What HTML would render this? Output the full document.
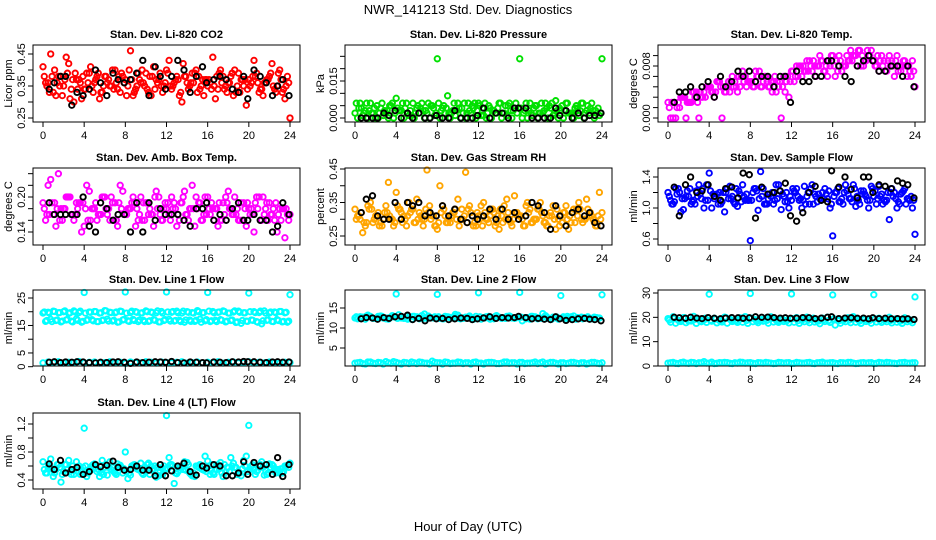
<!DOCTYPE html>
<html><head><meta charset="utf-8">
<style>
html,body{margin:0;padding:0;background:#fff;}
svg{display:block;font-family:"Liberation Sans",sans-serif;}
</style></head>
<body>
<svg id="chart" width="936" height="540" viewBox="0 0 936 540" xmlns="http://www.w3.org/2000/svg">
<rect width="936" height="540" fill="#fff"/>
<text x="468" y="14" text-anchor="middle" font-size="13">NWR_141213  Std. Dev. Diagnostics</text>
<text x="468" y="531" text-anchor="middle" font-size="13">Hour of Day (UTC)</text>
<g id="panels"></g>
</svg>
<script>
// ---- hours grids ----
const hoursA = [0,0.5,1,1.5,2,2.5,3,3.5,4,4.5,5,5.5,6,6.5,7,7.5,8,8.5,9,9.5,10,10.5,11,11.5,12,12.5,13,13.5,14,14.5,15,15.5,16,16.5,17,17.5,18,18.5,19,19.5,20,20.5,21,21.5,22,22.5,23,23.5,24];
const hoursB = [0.25,0.75,1.25,1.75,2.25,2.75,3.25,3.75,4.25,4.75,5.25,5.75,6.25,6.75,7.25,7.75,8.25,8.75,9.25,9.75,10.25,10.75,11.25,11.75,12.25,12.75,13.25,13.75,14.25,14.75,15.25,15.75,16.25,16.75,17.25,17.75,18.25,18.75,19.25,19.75,20.25,20.75,21.25,21.75,22.25,22.75,23.25,23.75];
const hoursC = [0.125,0.625,1.125,1.625,2.125,2.625,3.125,3.625,4.125,4.625,5.125,5.625,6.125,6.625,7.125,7.625,8.125,8.625,9.125,9.625,10.125,10.625,11.125,11.625,12.125,12.625,13.125,13.625,14.125,14.625,15.125,15.625,16.125,16.625,17.125,17.625,18.125,18.625,19.125,19.625,20.125,20.625,21.125,21.625,22.125,22.625,23.125,23.625];
const hoursD = [0.375,0.875,1.375,1.875,2.375,2.875,3.375,3.875,4.375,4.875,5.375,5.875,6.375,6.875,7.375,7.875,8.375,8.875,9.375,9.875,10.375,10.875,11.375,11.875,12.375,12.875,13.375,13.875,14.375,14.875,15.375,15.875,16.375,16.875,17.375,17.875,18.375,18.875,19.375,19.875,20.375,20.875,21.375,21.875,22.375,22.875,23.375,23.875];
const hoursBlack = [0.6,1.1,1.7,2.2,2.8,3.3,3.9,4.5,5.1,5.6,6.2,6.8,7.3,7.9,8.5,9.1,9.7,10.3,10.9,11.4,11.9,12.5,13.1,13.7,14.3,14.9,15.5,15.9,16.6,17.2,17.8,18.4,19.0,19.5,19.9,20.5,21.1,21.7,22.3,22.8,23.3,23.9];
const xTicks = [0,4,8,12,16,20,24];

// ---- CO2 ----
const co2A = [0.41,0.36,0.33,0.38,0.35,0.42,0.30,0.37,0.34,0.39,0.36,0.31,0.38,0.35,0.40,0.33,0.37,0.46,0.34,0.36,0.39,0.32,0.37,0.35,0.40,0.34,0.38,0.30,0.36,0.39,0.33,0.37,0.35,0.44,0.34,0.38,0.36,0.32,0.39,0.35,0.37,0.43,0.33,0.36,0.38,0.34,0.40,0.31,0.25];
const co2B = [0.36,0.45,0.32,0.38,0.44,0.34,0.37,0.31,0.39,0.35,0.38,0.33,0.36,0.40,0.34,0.38,0.35,0.32,0.39,0.36,0.33,0.41,0.37,0.35,0.43,0.36,0.32,0.38,0.35,0.39,0.34,0.37,0.36,0.31,0.40,0.35,0.38,0.33,0.37,0.29,0.36,0.39,0.34,0.37,0.42,0.35,0.33,0.38];
const co2C = [0.38,0.33,0.40,0.35,0.37,0.31,0.39,0.36,0.34,0.41,0.37,0.33,0.38,0.35,0.36,0.39,0.32,0.37,0.35,0.40,0.34,0.38,0.36,0.33,0.39,0.35,0.37,0.42,0.34,0.36,0.38,0.32,0.37,0.35,0.39,0.34,0.36,0.40,0.33,0.37,0.35,0.38,0.34,0.36,0.39,0.33,0.37,0.35];
const co2D = [0.35,0.38,0.36,0.32,0.39,0.37,0.34,0.38,0.36,0.33,0.39,0.35,0.37,0.34,0.38,0.36,0.40,0.33,0.37,0.35,0.38,0.34,0.39,0.36,0.35,0.37,0.33,0.38,0.36,0.40,0.35,0.37,0.34,0.38,0.36,0.33,0.39,0.35,0.37,0.34,0.38,0.36,0.32,0.37,0.35,0.39,0.34,0.36];
const co2Black = [0.34,0.36,0.38,0.38,0.29,0.33,0.32,0.34,0.40,0.36,0.32,0.39,0.37,0.36,0.37,0.39,0.43,0.32,0.41,0.38,0.34,0.38,0.43,0.40,0.33,0.38,0.41,0.36,0.37,0.38,0.37,0.34,0.33,0.38,0.31,0.40,0.38,0.36,0.32,0.35,0.37,0.32];
// ---- Pressure ----
const presA = [0.002,0.006,0.003,0.006,0,0.004,0.002,0.005,0.008,0.003,0.006,0.001,0.004,0.006,0.002,0.005,0.024,0.004,0.009,0.003,0.006,0.002,0.006,0.004,0.006,0.001,0.005,0.003,0.006,0.002,0.006,0.004,0.024,0.003,0.006,0.005,0.002,0.006,0.004,0.007,0.003,0.006,0.002,0.005,0.006,0.003,0.006,0.002,0.024];
const presB = [0,0.001,0,0.002,0,0.001,0,0,0.003,0,0.001,0,0.002,0,0,0.001,0,0.002,0,0.001,0,0,0.002,0,0.001,0,0,0.002,0,0.001,0,0.002,0,0,0.001,0,0.002,0,0.001,0,0,0.002,0,0.001,0,0.002,0,0.001];
const presC = [0.006,0.004,0.006,0.002,0.005,0.006,0.003,0.006,0.004,0.006,0.002,0.006,0.005,0.003,0.006,0.004,0.006,0.005,0.002,0.006,0.004,0.006,0.003,0.006,0.005,0.006,0.004,0.002,0.006,0.005,0.003,0.006,0.004,0.006,0.002,0.005,0.006,0.004,0.006,0.003,0.005,0.006,0.002,0.004,0.006,0.005,0.003,0.004];
const presD = [0.004,0.002,0.003,0.004,0.002,0.003,0.005,0.002,0.003,0.004,0.003,0.002,0.004,0.003,0.005,0.002,0.003,0.004,0.002,0.003,0.004,0.002,0.005,0.003,0.004,0.002,0.003,0.004,0.002,0.005,0.003,0.004,0.002,0.003,0.004,0.002,0.003,0.005,0.002,0.004,0.003,0.002,0.004,0.003,0.002,0.004,0.003,0.002];
const presBlack = [0,0,0,0,0.002,0.001,0.003,0,0.002,0,0.002,0,0,0.001,0,0,0.003,0,0,0,0.001,0.004,0,0.002,0.002,0,0.004,0.004,0.004,0,0,0,0,0.004,0.001,0.003,0,0.002,0,0.001,0.001,0.002];
// ---- Li-820 Temp ----
const ltA = [0.003,0,0.003,0.004,0.003,0.005,0,0.005,0.006,0.004,0.007,0.005,0.005,0.007,0.006,0.008,0.007,0.009,0.006,0.008,0.007,0.005,0,0.007,0.009,0.010,0.008,0.011,0.009,0.010,0.011,0.008,0.012,0.009,0.010,0.011,0.012,0.013,0.010,0.012,0.011,0.009,0.011,0.012,0.008,0.010,0.011,0.009,0.006];
const ltB = [0,0,0.004,0,0.003,0.005,0.004,0.006,0.005,0.007,0,0.006,0.008,0.005,0.009,0.007,0.006,0.008,0.007,0.006,0.007,0.006,0.008,0.004,0.007,0.010,0.009,0.011,0.010,0.012,0.009,0.010,0.008,0.011,0.010,0.013,0.012,0.010,0.011,0.013,0.010,0.012,0.009,0.011,0.012,0.010,0.008,0.011];
const ltC = [0.002,0.003,0.002,0.004,0.003,0.004,0.005,0.004,0.006,0.005,0.006,0.005,0.007,0.006,0.008,0.006,0.007,0.008,0.006,0.007,0.005,0.007,0.006,0.008,0.009,0.008,0.010,0.009,0.011,0.010,0.009,0.011,0.010,0.012,0.010,0.011,0.012,0.013,0.011,0.012,0.010,0.011,0.009,0.010,0.011,0.009,0.010,0.008];
const ltD = [0.003,0.002,0.004,0.003,0.005,0.003,0.004,0.006,0.005,0.007,0.006,0.007,0.006,0.008,0.007,0.007,0.006,0.009,0.008,0.006,0.008,0.007,0.005,0.007,0.008,0.010,0.009,0.010,0.008,0.011,0.010,0.012,0.011,0.009,0.012,0.011,0.010,0.012,0.013,0.011,0.012,0.010,0.011,0.010,0.009,0.011,0.010,0.009];
const ltBlack = [0.003,0.005,0.005,0.006,0.004,0.006,0.007,0.004,0.008,0.006,0.007,0.009,0.008,0.009,0.007,0.008,0.008,0.006,0.008,0.008,0.003,0.009,0.007,0.007,0.008,0.008,0.011,0.011,0.010,0.008,0.007,0.010,0.011,0.012,0.011,0.009,0.009,0.010,0.010,0.008,0.010,0.006];
// ---- Amb Box Temp ----
const abA = [0.19,0.22,0.17,0.24,0.18,0.20,0.16,0.19,0.15,0.21,0.18,0.17,0.20,0.16,0.19,0.22,0.17,0.18,0.15,0.20,0.19,0.17,0.21,0.16,0.18,0.20,0.15,0.19,0.17,0.22,0.18,0.16,0.20,0.18,0.15,0.19,0.21,0.17,0.16,0.19,0.18,0.14,0.20,0.17,0.19,0.16,0.18,0.13,0.17];
const abB = [0.16,0.23,0.15,0.18,0.20,0.17,0.19,0.14,0.22,0.18,0.16,0.20,0.17,0.19,0.15,0.21,0.18,0.20,0.16,0.19,0.17,0.15,0.20,0.18,0.17,0.19,0.16,0.21,0.18,0.15,0.19,0.20,0.17,0.18,0.16,0.20,0.18,0.17,0.19,0.15,0.18,0.20,0.16,0.19,0.17,0.14,0.18,0.17];
const abC = [0.18,0.17,0.19,0.16,0.18,0.20,0.17,0.19,0.18,0.16,0.19,0.17,0.18,0.20,0.16,0.18,0.17,0.19,0.18,0.16,0.19,0.17,0.18,0.16,0.19,0.18,0.17,0.20,0.16,0.18,0.19,0.17,0.18,0.16,0.19,0.17,0.18,0.20,0.16,0.18,0.17,0.19,0.16,0.18,0.17,0.19,0.16,0.18];
const abD = [0.17,0.19,0.18,0.16,0.20,0.17,0.18,0.19,0.16,0.18,0.17,0.20,0.18,0.16,0.19,0.17,0.18,0.19,0.17,0.16,0.18,0.20,0.17,0.19,0.16,0.18,0.19,0.17,0.18,0.20,0.16,0.17,0.19,0.18,0.16,0.19,0.17,0.18,0.16,0.19,0.17,0.18,0.20,0.16,0.18,0.17,0.18,0.16];
const abBlack = [0.19,0.17,0.17,0.17,0.17,0.17,0.20,0.15,0.14,0.19,0.18,0.16,0.17,0.17,0.14,0.19,0.14,0.19,0.16,0.18,0.17,0.17,0.17,0.16,0.15,0.18,0.18,0.19,0.16,0.17,0.16,0.18,0.19,0.16,0.16,0.17,0.16,0.16,0.14,0.15,0.19,0.17];
// ---- Gas Stream RH ----
const rhA = [0.33,0.30,0.28,0.35,0.31,0.29,0.34,0.30,0.38,0.32,0.28,0.33,0.36,0.30,0.45,0.31,0.27,0.34,0.29,0.32,0.36,0.30,0.33,0.28,0.31,0.35,0.29,0.32,0.27,0.34,0.30,0.37,0.31,0.28,0.33,0.30,0.35,0.29,0.32,0.27,0.31,0.34,0.29,0.33,0.30,0.36,0.31,0.28,0.32];
const rhB = [0.31,0.26,0.34,0.29,0.32,0.30,0.41,0.28,0.33,0.31,0.35,0.29,0.32,0.30,0.34,0.28,0.40,0.31,0.29,0.33,0.30,0.44,0.32,0.28,0.34,0.30,0.33,0.29,0.31,0.36,0.28,0.32,0.30,0.35,0.29,0.33,0.31,0.28,0.34,0.30,0.32,0.27,0.33,0.35,0.30,0.31,0.29,0.38];
const rhC = [0.30,0.32,0.29,0.33,0.31,0.28,0.32,0.30,0.34,0.29,0.31,0.33,0.30,0.28,0.32,0.31,0.29,0.33,0.30,0.32,0.28,0.31,0.34,0.29,0.30,0.32,0.31,0.28,0.33,0.30,0.29,0.32,0.31,0.34,0.29,0.30,0.32,0.28,0.31,0.33,0.29,0.30,0.32,0.31,0.29,0.33,0.30,0.31];
const rhD = [0.31,0.29,0.33,0.30,0.28,0.32,0.31,0.29,0.33,0.30,0.32,0.29,0.31,0.33,0.30,0.28,0.32,0.29,0.31,0.30,0.33,0.29,0.31,0.32,0.28,0.30,0.33,0.31,0.29,0.32,0.30,0.31,0.28,0.32,0.30,0.33,0.29,0.31,0.30,0.28,0.32,0.31,0.29,0.33,0.30,0.32,0.28,0.30];
const rhBlack = [0.32,0.36,0.37,0.31,0.30,0.30,0.35,0.30,0.35,0.34,0.35,0.31,0.32,0.31,0.34,0.31,0.33,0.30,0.29,0.31,0.30,0.31,0.33,0.30,0.33,0.30,0.32,0.30,0.31,0.35,0.34,0.32,0.27,0.34,0.31,0.28,0.32,0.33,0.31,0.32,0.29,0.28];
// ---- Sample Flow ----
const sfA = [1.2,1.05,1.25,0.98,1.15,1.1,1.3,1.0,1.45,1.12,1.2,0.95,1.28,1.05,1.18,1.1,0.58,1.25,1.47,1.05,1.15,1.3,0.98,1.2,1.1,1.25,1.0,1.15,1.3,1.08,1.2,1.12,0.64,1.25,1.05,1.18,1.3,1.1,1.22,1.0,1.15,1.28,1.1,0.85,1.2,1.05,1.25,1.1,0.66];
const sfB = [1.1,1.25,0.95,1.15,1.05,1.22,1.12,1.3,1.0,1.18,1.08,1.25,1.15,1.02,1.3,1.1,1.2,0.97,1.25,1.12,1.05,1.3,1.15,1.0,1.22,1.1,1.28,1.05,1.18,1.12,1.25,1.0,1.2,1.08,1.3,1.12,1.02,1.22,1.15,1.28,1.05,1.18,1.1,1.25,1.0,1.2,1.12,1.0];
const sfC = [1.15,1.08,1.2,1.12,1.25,1.05,1.18,1.1,1.22,1.15,1.05,1.2,1.12,1.25,1.08,1.18,1.1,1.22,1.15,1.05,1.2,1.12,1.18,1.08,1.25,1.15,1.1,1.2,1.05,1.18,1.12,1.22,1.15,1.08,1.2,1.12,1.25,1.05,1.18,1.1,1.22,1.15,1.08,1.2,1.12,1.18,1.05,1.15];
const sfD = [1.05,1.18,1.12,1.22,1.08,1.15,1.25,1.1,1.18,1.05,1.2,1.12,1.08,1.22,1.15,1.1,1.25,1.12,1.05,1.18,1.1,1.22,1.08,1.15,1.2,1.12,1.05,1.25,1.15,1.1,1.18,1.05,1.2,1.12,1.22,1.08,1.15,1.18,1.1,1.25,1.12,1.05,1.2,1.15,1.08,1.22,1.12,1.1];
const sfBlack = [1.27,0.90,1.3,1.4,1.2,1.22,1.3,1.15,1.1,1.25,1.27,1.13,1.45,1.43,0.87,1.27,1.18,1.2,1.22,1.32,0.9,0.83,0.94,1.2,1.28,1.1,1.08,1.48,1.27,1.4,1.24,1.13,1.4,1.4,1.2,1.3,1.28,1.25,1.35,1.32,1.3,1.13];
// ---- Line 1 Flow ----
const l1A = [19.5,19.8,20.2,19.6,20.0,19.4,20.3,19.7,27,19.9,20.1,19.5,20.4,19.8,19.6,20.2,27.5,19.7,20.0,19.5,20.3,19.9,19.6,20.1,27.2,19.8,20.2,19.5,20.0,19.7,20.4,19.6,27,20.1,19.8,20.3,19.5,19.9,20.2,19.6,26.8,20.0,19.7,20.3,19.5,19.9,20.1,19.6,26.2];
const l1B = [16.5,17.2,16.8,16.3,17.0,16.6,17.4,16.2,16.9,17.1,16.4,16.8,17.3,16.6,16.2,17.0,16.7,17.2,16.4,16.9,16.5,17.1,16.3,16.8,17.2,16.6,16.9,16.2,17.0,16.5,17.3,16.7,16.4,16.9,17.1,16.3,16.8,16.1,15.8,16.6,17.0,16.4,15.6,16.9,16.5,17.1,16.3,16.2];
const l1C = [1.4,1.7,1.5,1.8,1.3,1.6,1.5,1.9,1.4,1.6,1.7,1.3,1.5,1.8,1.4,1.6,1.2,1.7,1.5,1.4,1.8,1.6,1.3,1.7,1.5,1.4,1.6,1.8,1.3,1.5,1.7,1.4,1.6,1.5,1.8,1.3,1.6,1.7,1.4,1.5,1.8,1.3,1.6,1.4,1.7,1.5,1.3,1.6,1.5];
const l1D = [19.9,19.5,20.1,19.7,20.3,19.6,19.9,20.2,19.5,19.8,20.0,19.6,20.3,19.7,19.9,20.1,19.5,20.2,19.8,19.6,20.0,19.7,20.3,19.5,19.9,20.1,19.6,20.2,19.8,19.5,20.0,19.7,20.2,19.6,19.9,20.1,19.5,20.3,19.8,19.6,20.0,19.7,20.2,19.5,19.9,19.6,20.1,19.8];
const l1E = [16.8,16.4,17.0,16.6,17.2,16.3,16.9,16.5,17.1,16.7,16.4,17.0,16.6,16.9,16.3,17.2,16.5,16.8,17.0,16.4,16.7,16.9,16.3,17.1,16.6,16.8,16.4,17.0,16.5,16.9,16.2,17.1,16.7,16.4,16.9,16.6,17.0,16.3,16.8,16.5,16.9,16.2,16.7,17.0,16.4,16.8,16.5,16.6];
const l1Black = [1.6,1.8,1.5,1.7,1.6,1.8,1.7,1.5,1.4,1.6,1.5,1.7,1.8,1.6,1.2,1.7,1.5,1.6,1.8,1.7,1.6,1.9,1.5,1.4,1.7,1.6,1.5,1.4,1.7,1.6,1.5,1.8,1.7,1.9,1.8,1.8,1.6,1.5,1.7,1.8,1.6,1.7];
// ---- Line 2 Flow ----
const l2A = [12.5,12.8,12.2,12.9,12.4,13.0,12.3,12.7,18.5,12.5,12.9,12.2,12.8,13.1,12.4,12.6,18.4,12.3,12.8,12.5,13.2,12.4,12.7,12.2,18.8,12.6,12.9,12.3,12.7,12.5,13.0,12.4,18.9,12.6,12.2,12.8,12.5,13.1,12.3,12.6,18.1,12.4,12.8,12.2,12.7,12.5,12.3,12.6,18.3];
const l2B = [12.3,12.7,13.2,12.4,12.9,12.5,12.2,12.8,13.3,12.4,12.6,12.9,12.3,13.5,12.5,12.8,12.4,12.9,12.6,13.4,12.3,12.7,12.5,12.9,12.2,12.8,12.6,13.1,12.4,12.9,12.5,12.7,11.8,12.6,12.9,12.3,13.6,12.4,12.7,12.2,12.8,12.5,13.0,12.4,12.6,12.3,12.7,12.5];
const l2C = [1.2,1.4,1.0,1.5,1.1,1.3,1.6,1.2,1.4,1.0,1.3,1.5,1.1,1.4,1.2,1.7,1.3,1.0,1.4,1.2,1.5,1.1,1.3,1.4,1.2,1.0,1.4,1.3,1.1,1.5,1.2,1.3,1.4,1.1,1.2,1.5,1.3,1.0,1.4,1.2,1.3,1.1,1.4,1.2,1.3,1.0,1.4,1.2,1.3];
const l2D = [12.8,12.4,13.0,12.6,12.3,12.9,12.5,13.1,12.4,12.7,12.2,12.9,12.6,12.4,13.0,12.5,12.8,12.3,12.7,12.9,12.4,12.6,13.0,12.3,12.8,12.5,12.2,12.9,12.6,12.4,12.8,12.5,12.7,12.3,12.9,12.6,12.4,12.8,12.2,12.7,12.5,12.9,12.4,12.6,12.3,12.8,12.5,12.4];
const l2E = [1.3,1.1,1.5,1.2,1.4,1.0,1.3,1.6,1.2,1.4,1.1,1.3,1.5,1.2,1.0,1.4,1.3,1.5,1.1,1.2,1.4,1.3,1.0,1.5,1.2,1.3,1.4,1.1,1.2,1.5,1.3,1.0,1.4,1.2,1.3,1.1,1.5,1.2,1.4,1.0,1.3,1.2,1.4,1.1,1.3,1.2,1.4,1.1];
const l2Black = [12.3,12.6,12.5,12.2,12.6,12.4,12.8,12.9,13.2,12.1,12.4,11.8,12.5,12.3,12.4,12.1,12.3,12.5,12.4,12.1,12.3,12.5,12.8,12.4,12.6,12.5,12.6,12.9,12.6,12.3,12.4,12.2,12.1,12.8,12.3,11.9,12.1,12.3,12.4,12.2,12.1,11.8];
// ---- Line 3 Flow ----
const l3A = [19.5,20.2,18.8,19.9,18.5,20.4,19.2,18.9,29.5,19.6,18.7,20.1,19.3,18.6,19.8,20.3,29.8,19.0,18.6,19.7,20.2,18.9,19.4,18.5,29.6,19.9,18.8,20.1,19.2,18.6,19.7,20.0,29.2,19.1,18.7,19.8,20.3,18.9,19.5,18.6,29.3,19.6,18.9,20.0,19.2,18.7,19.8,18.8,28.4];
const l3B = [18.0,17.6,18.3,17.8,18.5,17.5,18.2,17.9,18.4,17.7,18.1,17.6,18.3,17.9,18.0,17.5,18.2,17.8,18.4,17.6,18.1,17.9,18.3,17.7,18.0,17.5,18.2,17.8,18.1,17.4,18.3,17.9,16.8,17.6,18.2,17.8,18.0,17.5,18.3,17.6,18.1,17.9,18.2,17.7,18.0,17.5,18.2,17.8];
const l3C = [1.2,1.5,1.0,1.6,1.1,1.4,1.3,1.8,1.2,1.0,1.4,1.5,1.1,1.3,1.6,1.2,1.4,1.0,1.3,1.5,1.2,1.1,1.4,1.3,1.0,1.5,1.2,1.4,1.1,1.3,1.6,1.2,1.4,1.0,1.3,1.5,1.2,1.1,1.4,1.3,1.0,1.5,1.2,1.4,1.1,1.3,1.5,1.2,1.3];
const l3D = [18.9,19.5,18.4,19.8,18.7,19.2,18.5,19.6,18.8,19.3,18.6,19.9,18.9,18.4,19.4,18.7,19.7,18.5,19.1,18.8,19.6,18.4,19.2,18.9,19.5,18.6,19.3,18.8,19.7,18.5,19.0,18.7,19.4,18.6,19.2,18.9,19.6,18.5,19.1,18.8,19.4,18.6,19.0,18.7,19.3,18.5,19.1,18.8];
const l3E = [1.3,1.1,1.4,1.2,1.5,1.0,1.3,1.2,1.6,1.1,1.3,1.4,1.0,1.2,1.5,1.3,1.1,1.4,1.2,1.3,1.0,1.5,1.2,1.4,1.1,1.3,1.2,1.5,1.0,1.4,1.2,1.3,1.1,1.4,1.2,1.5,1.0,1.3,1.2,1.4,1.1,1.3,1.5,1.2,1.0,1.4,1.2,1.3];
const l3Black = [20.0,19.8,19.6,20.0,19.7,19.5,19.9,19.6,19.4,19.7,19.9,19.8,19.6,19.8,20.2,20.0,20.1,19.9,19.7,19.8,19.6,19.7,19.9,19.8,19.5,19.7,20.0,20.2,19.5,19.7,19.8,19.6,19.7,19.4,19.8,19.5,19.6,19.4,19.5,19.3,19.4,19.1];
// ---- Line 4 (LT) Flow ----
const l4A = [0.66,0.58,0.45,0.62,0.52,0.68,0.48,0.60,1.14,0.55,0.63,0.45,0.58,0.66,0.50,0.61,0.80,0.47,0.59,0.64,0.52,0.60,0.44,0.57,1.32,0.62,0.49,0.58,0.65,0.46,0.60,0.55,0.67,0.50,0.62,0.45,0.58,0.64,0.52,0.68,1.18,0.55,0.61,0.47,0.63,0.56,0.50,0.60,0.64];
const l4B = [0.50,0.70,0.55,0.37,0.62,0.48,0.66,0.53,0.45,0.60,0.52,0.68,0.47,0.58,0.63,0.50,0.42,0.61,0.55,0.48,0.64,0.56,0.46,0.60,0.72,0.35,0.58,0.66,0.50,0.45,0.62,0.74,0.48,0.56,0.65,0.51,0.72,0.58,0.46,0.74,0.60,0.52,0.66,0.48,0.62,0.55,0.50,0.61];
const l4C = [0.55,0.60,0.50,0.58,0.62,0.52,0.56,0.48,0.60,0.54,0.58,0.50,0.62,0.55,0.48,0.58,0.52,0.60,0.56,0.50,0.62,0.54,0.58,0.48,0.56,0.60,0.52,0.55,0.62,0.50,0.58,0.54,0.60,0.48,0.56,0.62,0.52,0.58,0.50,0.60,0.55,0.48,0.62,0.54,0.58,0.50,0.56,0.60];
const l4D = [0.50,0.56,0.62,0.48,0.55,0.60,0.52,0.58,0.50,0.62,0.55,0.48,0.58,0.52,0.60,0.56,0.50,0.62,0.54,0.58,0.48,0.60,0.52,0.56,0.62,0.50,0.58,0.54,0.48,0.60,0.56,0.52,0.62,0.55,0.50,0.58,0.60,0.48,0.56,0.52,0.62,0.54,0.58,0.50,0.60,0.55,0.52,0.58];
const l4Black = [0.63,0.55,0.68,0.50,0.55,0.58,0.48,0.52,0.62,0.59,0.61,0.67,0.58,0.54,0.55,0.60,0.54,0.54,0.46,0.62,0.46,0.53,0.60,0.64,0.52,0.47,0.60,0.57,0.62,0.60,0.46,0.46,0.50,0.66,0.48,0.65,0.60,0.62,0.48,0.72,0.45,0.62];

const colLeft = [33,345,658], rowTop = [45,168,290,413], rowBot = [122,245,366,489], boxW = 267;
const RED='#ff0000', GRN='#00e000', MAG='#ff00ff', ORG='#ffa500', BLU='#0000ff', CYA='#00ffff';

const panels = [
 {id:'co2', title:'Stan. Dev. Li-820 CO2', ylab:'Licor ppm', c:0, r:0, m:[0.25,118,0.45,54], ticks:[0.25,0.30,0.35,0.40,0.45], labels:[[0.25,'0.25'],[0.35,'0.35'],[0.45,'0.45']],
  series:[[hoursA,co2A,RED],[hoursB,co2B,RED],[hoursC,co2C,RED],[hoursD,co2D,RED],[hoursBlack,co2Black,'#000']]},
 {id:'pressure', title:'Stan. Dev. Li-820 Pressure', ylab:'kPa', c:1, r:0, m:[0,118,0.015,81], ticks:[0,0.005,0.010,0.015,0.020,0.025], labels:[[0,'0.000'],[0.015,'0.015']],
  series:[[hoursA,presA,GRN],[hoursB,presB,GRN],[hoursC,presC,GRN],[hoursD,presD,GRN],[hoursBlack,presBlack,'#000']]},
 {id:'li820-temp', title:'Stan. Dev. Li-820 Temp.', ylab:'degrees C', c:2, r:0, m:[0,118,0.010,66], ticks:[0,0.002,0.004,0.006,0.008,0.010,0.012], labels:[[0,'0.000'],[0.010,'0.008']],
  series:[[hoursA,ltA,MAG],[hoursB,ltB,MAG],[hoursC,ltC,MAG],[hoursD,ltD,MAG],[hoursBlack,ltBlack,'#000']]},
 {id:'amb-box-temp', title:'Stan. Dev. Amb. Box Temp.', ylab:'degrees C', c:0, r:1, m:[0.14,232,0.20,197], ticks:[0.14,0.16,0.18,0.20,0.22,0.24], labels:[[0.14,'0.14'],[0.20,'0.20']],
  series:[[hoursA,abA,MAG],[hoursB,abB,MAG],[hoursC,abC,MAG],[hoursD,abD,MAG],[hoursBlack,abBlack,'#000']]},
 {id:'gas-stream-rh', title:'Stan. Dev. Gas Stream RH', ylab:'percent', c:1, r:1, m:[0.25,236,0.45,169], ticks:[0.25,0.30,0.35,0.40,0.45], labels:[[0.25,'0.25'],[0.35,'0.35'],[0.45,'0.45']],
  series:[[hoursA,rhA,ORG],[hoursB,rhB,ORG],[hoursC,rhC,ORG],[hoursD,rhD,ORG],[hoursBlack,rhBlack,'#000']]},
 {id:'sample-flow', title:'Stan. Dev. Sample Flow', ylab:'ml/min', c:2, r:1, m:[0.6,239,1.4,177], ticks:[0.6,0.8,1.0,1.2,1.4], labels:[[0.6,'0.6'],[1.0,'1.0'],[1.4,'1.4']],
  series:[[hoursA,sfA,BLU],[hoursB,sfB,BLU],[hoursC,sfC,BLU],[hoursD,sfD,BLU],[hoursBlack,sfBlack,'#000']]},
 {id:'line1-flow', title:'Stan. Dev. Line 1 Flow', ylab:'ml/min', c:0, r:2, m:[0,366.7,25,298], ticks:[0,5,10,15,20,25], labels:[[0,'0'],[5,'5'],[15,'15'],[25,'25']],
  series:[[hoursA,l1A,CYA],[hoursB,l1B,CYA],[hoursC,l1D,CYA],[hoursD,l1E,CYA],[hoursA,l1C,CYA],[hoursBlack,l1Black,'#000']]},
 {id:'line2-flow', title:'Stan. Dev. Line 2 Flow', ylab:'ml/min', c:1, r:2, m:[5,348,15,308], ticks:[5,10,15], labels:[[5,'5'],[10,'10'],[15,'15']],
  series:[[hoursA,l2A,CYA],[hoursB,l2B,CYA],[hoursC,l2D,CYA],[hoursA,l2C,CYA],[hoursB,l2E,CYA],[hoursBlack,l2Black,'#000']]},
 {id:'line3-flow', title:'Stan. Dev. Line 3 Flow', ylab:'ml/min', c:2, r:2, m:[0,366,30,293], ticks:[0,10,20,30], labels:[[0,'0'],[10,'10'],[20,'20'],[30,'30']],
  series:[[hoursA,l3A,CYA],[hoursB,l3B,CYA],[hoursC,l3D,CYA],[hoursA,l3C,CYA],[hoursB,l3E,CYA],[hoursBlack,l3Black,'#000']]},
 {id:'line4-flow', title:'Stan. Dev. Line 4 (LT) Flow', ylab:'ml/min', c:0, r:3, m:[0.4,480,1.2,424], ticks:[0.4,0.6,0.8,1.0,1.2], labels:[[0.4,'0.4'],[0.8,'0.8'],[1.2,'1.2']],
  series:[[hoursA,l4A,CYA],[hoursB,l4B,CYA],[hoursC,l4C,CYA],[hoursD,l4D,CYA],[hoursBlack,l4Black,'#000']]}
];

const NS='http://www.w3.org/2000/svg';
function mk(tag, attrs, parent){const e=document.createElementNS(NS,tag);for(const k in attrs)e.setAttribute(k,attrs[k]);parent.appendChild(e);return e;}
const root=document.getElementById('panels');

panels.forEach(p=>{
  const L=colLeft[p.c], T=rowTop[p.r], B=rowBot[p.r], R=L+boxW;
  const xs=h=>L+10+h/24*247;
  const ys=v=>p.m[1]+(v-p.m[0])*(p.m[3]-p.m[1])/(p.m[2]-p.m[0]);
  const g=mk('g',{},root);
  
  
  const t=mk('text',{x:(L+R)/2,y:T-7,'text-anchor':'middle','font-size':'11','font-weight':'bold'},g);
  t.textContent=p.title;
  
  
  const yl=mk('text',{x:L-21,y:(T+B)/2,'text-anchor':'middle','font-size':'11',transform:`rotate(-90 ${L-21} ${(T+B)/2})`},g);
  yl.textContent=p.ylab;
  
  
  const pts=mk('g',{fill:'none','stroke-width':'1.9'},g);
  
  
  p.series.forEach(s=>{
    const [hs,vs,col]=s;
    vs.forEach((v,i)=>{
      let y=ys(v); if(y<T+2)y=T+2; if(y>B-2)y=B-2;
      const c=mk('circle',{cx:xs(hs[i]).toFixed(1),cy:y.toFixed(1),r:'2.7',stroke:col},pts);
      
      
    });
  });
  const bx=mk('rect',{x:L,y:T,width:boxW,height:B-T,fill:'none',stroke:'#000','stroke-width':'1'},g);
  
  
  const xa=mk('g',{},g);
  
  
  xTicks.forEach(h=>{
    mk('line',{x1:xs(h),x2:xs(h),y1:B,y2:B+5,stroke:'#000'},xa);
    const tl=mk('text',{x:xs(h),y:B+17,'text-anchor':'middle','font-size':'11'},xa);
    tl.textContent=h;
  });
  const ya=mk('g',{},g);
  
  
  p.ticks.forEach(v=>{mk('line',{x1:L-5,x2:L,y1:ys(v),y2:ys(v),stroke:'#000'},ya);});
  p.labels.forEach(([v,s])=>{
    const y=ys(v), x=L-8;
    const tl=mk('text',{x:x,y:y,'text-anchor':'middle','font-size':'11',transform:`rotate(-90 ${x} ${y})`},ya);
    tl.textContent=s;
  });
});
</script>
</body></html>
